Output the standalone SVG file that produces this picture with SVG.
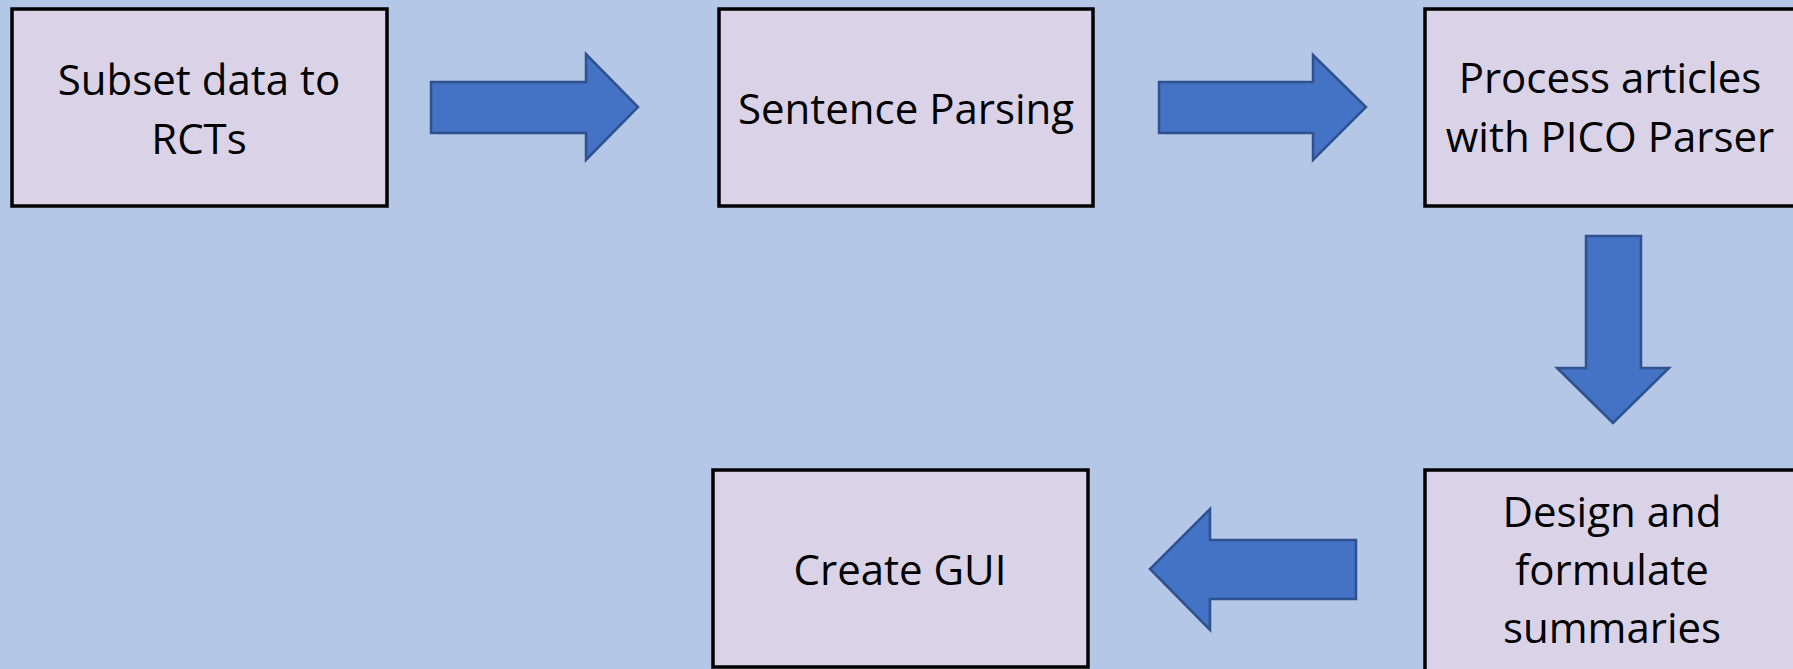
<svg xmlns="http://www.w3.org/2000/svg" width="1793" height="669" viewBox="0 0 1793 669">
<style>
.box{fill:#DAD3E8;stroke:#000;stroke-width:3.5}
.arr{fill:#4472C4;stroke:#2F528F;stroke-width:2.5;stroke-linejoin:miter}
.t{font-family:"Open Sans","Liberation Sans",sans-serif;font-size:42px;fill:#000;text-anchor:middle}
</style>
<rect x="0" y="0" width="1793" height="669" fill="#B4C7E7"/>
<g id="n1"><rect class="box" x="12" y="9" width="375" height="197"/><text class="t" x="199" y="95">Subset data to</text><text class="t" x="199" y="154">RCTs</text></g>
<g id="n2"><rect class="box" x="719" y="9" width="374" height="197"/><text class="t" x="906" y="124">Sentence Parsing</text></g>
<g id="n3"><rect class="box" x="1425" y="9" width="375" height="197"/><text class="t" x="1610" y="93">Process articles</text><text class="t" x="1610" y="152">with PICO Parser</text></g>
<g id="n4"><rect class="box" x="713" y="470" width="375" height="197"/><text class="t" x="900" y="585">Create GUI</text></g>
<g id="n5"><rect class="box" x="1425" y="470" width="375" height="210"/><text class="t" x="1612" y="527">Design and</text><text class="t" x="1612" y="585">formulate</text><text class="t" x="1612" y="643">summaries</text></g>
<g id="connectors">
<polygon class="arr" points="431,82 586,82 586,54 638,107 586,160 586,133 431,133"/>
<polygon class="arr" points="1159,82 1313,82 1313,55 1366,107 1313,160 1313,133 1159,133"/>
<polygon class="arr" points="1586,236 1641,236 1641,368 1669,368 1613,423 1557,368 1586,368"/>
<polygon class="arr" points="1356,540 1210,540 1210,509 1150,569 1210,630 1210,599 1356,599"/>
</g>
</svg>
